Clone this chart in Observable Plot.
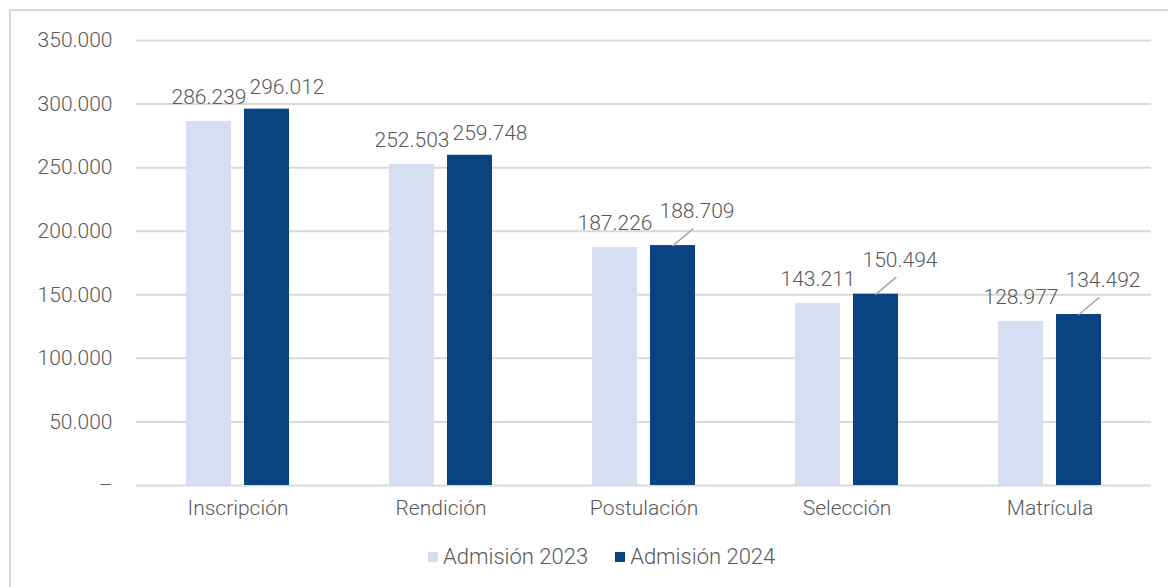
<!DOCTYPE html>
<html>
<head>
<meta charset="utf-8">
<script src="https://cdn.jsdelivr.net/npm/d3@7"></script>
<script src="https://cdn.jsdelivr.net/npm/@observablehq/plot@0.6"></script>
<style>
  html, body { margin: 0; padding: 0; background: #fff; overflow: hidden; }
  body { width: 1168px; height: 587px; position: relative; font-family: Roboto, "Open Sans", sans-serif; font-weight: 300; }
  #frame { position: absolute; left: 9px; top: 9px; width: 1200px; height: 620px; border: 2px solid #d9d9d9; box-sizing: border-box; }
  #chart { position: absolute; left: 0; top: 0; }
  #legend { position: absolute; left: 428px; top: 544px; display: flex; align-items: center; font-size: 22px; color: #595959; white-space: nowrap; }
  .item { display: flex; align-items: center; margin-right: 27px; }
  .sw { width: 10px; height: 10px; margin-right: 5px; }
</style>
</head>
<body>
<div id="frame"></div>
<div id="chart"></div>
<div id="legend"></div>
<script>
const stages = ["Inscripción", "Rendición", "Postulación", "Selección", "Matrícula"];
const seriesNames = ["Admisión 2023", "Admisión 2024"];
const values2023 = [286239, 252503, 187226, 143211, 128977];
const values2024 = [296012, 259748, 188709, 150494, 134492];
const yTicks = [0, 50000, 100000, 150000, 200000, 250000, 300000, 350000];
const leaderStages = ["Postulación", "Selección", "Matrícula"];
const colors = ["#d5dff1", "#0b4380"];

const data = [];
stages.forEach((s, i) => {
  data.push({stage: s, series: seriesNames[0], value: values2023[i]});
  data.push({stage: s, series: seriesNames[1], value: values2024[i]});
});

const locale = d3.formatLocale({decimal: ",", thousands: ".", grouping: [3], currency: ["$", ""]});
const fmt = locale.format(",d");
const tickFmt = v => v === 0 ? "–" : fmt(v);

const light = data.filter(d => d.series === seriesNames[0]);
const dark = data.filter(d => d.series === seriesNames[1]);
const darkLeader = dark.filter(d => leaderStages.includes(d.stage));
const darkPlain = dark.filter(d => !leaderStages.includes(d.stage));

const leaderShape = {draw(context, l) { context.moveTo(0, 0); context.lineTo(0, -l); }};

const chart = Plot.plot({
  width: 1168,
  height: 530,
  marginLeft: 134,
  marginRight: 15,
  marginTop: 40,
  marginBottom: 45,
  style: {fontFamily: "Roboto, 'Open Sans', sans-serif", fontWeight: 300, fontSize: "21px", color: "#595959", background: "transparent", overflow: "visible"},
  fx: {domain: stages, paddingInner: 0, paddingOuter: 0},
  x: {domain: seriesNames, paddingInner: 0.22, paddingOuter: 0.84, axis: null},
  y: {domain: [0, 350000]},
  color: {domain: seriesNames, range: colors},
  marks: [
    Plot.gridY(yTicks, {stroke: "#d9d9d9", strokeOpacity: 1, strokeWidth: 2}),
    Plot.axisY(yTicks, {tickFormat: tickFmt, tickSize: 0, tickPadding: 24, label: null, fontSize: 21, fill: "#595959"}),
    Plot.axisFx({anchor: "bottom", tickSize: 0, tickPadding: 15, label: null, fontSize: 21, fill: "#595959"}),
    Plot.barY(data, {fx: "stage", x: "series", y: "value", fill: "series"}),
    Plot.text(light, {fx: "stage", x: "series", y: "value", text: d => fmt(d.value), dy: -24, fill: "#595959", fontSize: 21}),
    Plot.text(darkPlain, {fx: "stage", x: "series", y: "value", text: d => fmt(d.value), dx: 20, dy: -22, fill: "#595959", fontSize: 21}),
    Plot.vector(darkLeader, {fx: "stage", x: "series", y: "value", length: 26, rotate: 50, anchor: "start", shape: leaderShape, stroke: "#a6a6a6", strokeWidth: 1.5}),
    Plot.text(darkLeader, {fx: "stage", x: "series", y: "value", text: d => fmt(d.value), dx: 24, dy: -34, fill: "#595959", fontSize: 21})
  ]
});
document.getElementById("chart").appendChild(chart);

const legend = document.getElementById("legend");
seriesNames.forEach((name, i) => {
  const item = document.createElement("div");
  item.className = "item";
  const sw = document.createElement("div");
  sw.className = "sw";
  sw.style.background = colors[i];
  const label = document.createElement("span");
  label.textContent = name;
  item.appendChild(sw);
  item.appendChild(label);
  legend.appendChild(item);
});
</script>
</body>
</html>
